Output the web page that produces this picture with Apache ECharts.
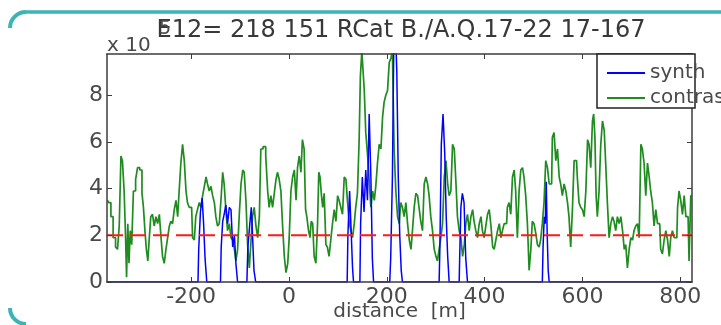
<!DOCTYPE html>
<html><head><meta charset="utf-8">
<script src="https://cdn.jsdelivr.net/npm/echarts@6/dist/echarts.min.js"></script>
<style>html,body{margin:0;padding:0;background:#fff}#c{width:721px;height:325px}</style>
</head><body><div id="c"></div>
<script>
// tick labels
const xTicks = [-200, 0, 200, 400, 600, 800];
const yTicks = [0, 2, 4, 6, 8];
// values in units of 1e5, distance in m
const contrastPts = [
[-371,3.5],[-366,3.4],[-362,2.8],[-357,1.9],[-352,1.5],[-349,1.4],[-345,2.4],[-342,5.4],[-339,5.2],[-335,3.9],
[-333,1.9],[-331,0.2],[-328,2.5],[-326,0.8],[-323,2.2],[-320,1.6],[-316,3.9],[-311,4.4],[-308,4.9],[-302,4.8],
[-299,3.8],[-296,3.2],[-293,2.2],[-290,1.4],[-287,0.9],[-284,1.9],[-281,2.8],[-277,2.9],[-274,2.4],[-270,2.8],
[-267,2.5],[-263,2.9],[-260,1.9],[-257,1.1],[-253,0.8],[-250,1.4],[-246,1.9],[-243,2.4],[-240,2.6],[-236,2.5],
[-233,3.1],[-229,3.5],[-226,2.8],[-223,3.9],[-219,5.1],[-216,5.9],[-212,5.2],[-209,3.9],[-206,3.4],[-202,3.2],
[-199,3.2],[-195,1.9],[-192,1.8],[-189,2.8],[-185,3.1],[-182,3.4],[-178,3.2],[-175,3.7],[-171,4.1],[-168,4.5],
[-165,4.2],[-161,3.9],[-158,4.1],[-154,3.7],[-151,3.4],[-148,2.8],[-144,2.4],[-141,2.5],[-137,3.5],[-134,4.7],
[-131,4.2],[-127,3.1],[-124,2.2],[-120,2.5],[-117,1.9],[-113,1.8],[-110,1.4],[-107,0.9],[-103,1.4],[-100,2.9],
[-96,4.2],[-93,4.8],[-90,4.7],[-86,3.5],[-83,1.6],[-79,0.6],[-76,1.8],[-73,2.8],[-69,3.2],[-66,2.4],
[-62,1.9],[-59,2.8],[-56,5.7],[-50,5.8],[-45,5.4],[-42,3.9],[-39,3.2],[-35,3.7],[-32,3.2],[-28,3.8],
[-25,4.4],[-22,4.7],[-18,4.4],[-15,3.9],[-11,2.4],[-8,1.1],[-4,0.4],[-1,0.8],[2,1.9],[6,3.9],
[9,4.5],[13,4.8],[16,3.5],[19,4.9],[23,5.4],[26,4.7],[29,6.1],[33,5.7],[35,3.1],[38,2.8],
[42,2.2],[44,1.9],[47,2.6],[50,2.5],[53,1.1],[57,0.8],[60,2.5],[62,4.7],[65,4.5],[68,3.7],
[70,3.2],[74,3.8],[77,1.6],[80,1.5],[84,1.1],[87,1.8],[91,2.5],[94,3.1],[98,2.6],[101,3.7],
[104,3.5],[108,3.2],[111,2.9],[115,4.5],[118,4.4],[121,3.5],[125,2.6],[128,2.2],[132,1.9],[135,2.5],
[138,3.2],[142,3.8],[145,6.1],[147,8.8],[151,9.9],[153,9.9],[155,8.2],[159,6.4],[162,5.5],[166,4.4],
[169,3.2],[173,3.9],[176,3.5],[179,4.1],[183,5.1],[186,5.9],[190,5.7],[193,7.1],[196,7.7],[200,8.0],
[203,8.2],[207,9.4],[210,9.6],[213,9.9],[217,5.7],[220,3.9],[224,2.8],[227,2.5],[230,3.4],[234,3.2],
[237,2.8],[241,3.4],[244,2.5],[248,1.8],[251,1.4],[254,2.2],[258,3.2],[261,3.8],[265,3.7],[268,3.1],
[271,2.6],[275,2.2],[278,4.2],[282,4.5],[285,4.2],[288,3.7],[292,2.8],[295,2.2],[299,1.4],[302,1.1],
[305,0.9],[309,1.4],[312,1.9],[316,2.5],[319,4.5],[323,5.2],[326,4.2],[329,3.7],[333,3.9],[336,5.9],
[340,5.7],[343,4.2],[346,2.8],[350,2.2],[353,1.9],[357,1.1],[360,1.6],[363,2.5],[367,2.9],[370,2.2],
[374,2.8],[377,3.1],[380,2.6],[384,2.2],[387,1.9],[391,2.5],[394,2.8],[397,2.2],[401,1.9],[404,2.4],
[408,2.9],[411,3.1],[415,2.4],[418,1.5],[421,1.4],[425,1.8],[428,2.2],[432,2.5],[435,1.9],[438,2.2],
[442,2.5],[445,2.5],[448,3.2],[452,3.4],[455,2.9],[459,4.5],[462,4.8],[465,3.9],[469,1.9],[472,3.9],
[476,4.8],[479,4.9],[482,4.5],[486,3.7],[489,2.5],[493,0.5],[496,1.4],[499,2.6],[503,2.5],[506,2.1],
[510,1.6],[513,1.5],[516,1.8],[520,2.5],[523,3.4],[527,5.2],[530,4.9],[534,4.2],[537,4.2],[540,6.2],
[544,6.4],[547,5.2],[551,5.7],[554,4.5],[557,4.2],[561,3.7],[564,4.2],[568,3.9],[571,3.4],[574,2.8],
[578,1.5],[581,3.1],[585,5.2],[588,5.2],[591,4.5],[595,3.4],[598,3.2],[602,3.1],[605,2.8],[609,3.9],
[612,6.1],[615,5.9],[619,4.9],[622,6.9],[624,7.2],[627,6.2],[629,3.7],[632,2.8],[636,3.9],[639,5.9],
[643,6.9],[646,6.5],[649,5.1],[653,3.4],[656,1.9],[660,2.5],[663,2.8],[666,2.6],[670,2.2],[673,2.8],
[677,2.5],[680,2.8],[684,2.2],[687,1.4],[690,1.6],[694,0.6],[697,1.4],[701,1.9],[704,1.8],[707,2.2],
[711,2.4],[714,2.5],[718,1.9],[721,5.9],[724,5.7],[728,5.1],[731,3.7],[735,5.1],[738,4.5],[741,3.9],
[745,3.4],[748,2.4],[752,3.1],[755,2.5],[758,2.5],[762,1.4],[765,1.2],[769,1.8],[772,2.2],[776,1.8],
[779,1.1],[782,1.9],[786,2.2],[789,1.9],[793,1.9],[796,3.2],[799,3.9],[803,3.5],[806,2.9],[810,3.7],
[813,2.8],[816,2.8],[820,0.9],[823,3.7]
];
const synthPts = [
[-372,0],[-186,0],[-183,1.4],[-179,3.0],[-176,3.6],[-173,2.5],[-170,1.0],[-166,0],
[-140,0],[-137,1.5],[-134,2.6],[-131,2.9],[-127,3.3],[-124,2.5],[-120,3.2],[-117,3.1],[-113,1.5],[-110,2.0],[-107,0.8],[-103,0],
[-86,0],[-82,1.5],[-78,2.5],[-76,3.2],[-73,2.0],[-70,0.5],[-66,0],
[119,0],[122,2.0],[126,3.9],[129,2.0],[131,0.6],[133,0],
[145,0],[148,2.5],[152,4.5],[155,3.0],[159,4.8],[162,3.5],[166,7.2],[169,4.5],[172,1.0],[174,0],
[206,0],[210,1.0],[213,4.5],[216,10.5],[219,11],[222,9.0],[225,4.5],[228,2.0],[231,0.5],[233,0],
[307,0],[310,1.4],[313,5.9],[317,7.2],[320,5.5],[323,2.8],[326,1.1],[329,0],
[348,0],[350,1.0],[353,3.2],[356,3.8],[360,3.4],[363,1.0],[367,0],
[518,0],[521,1.5],[523,2.8],[525,2.5],[527,4.3],[529,2.0],[531,0.5],[533,0],
[824,0]
];
const thresholdLevel = 2;
const xRange = [-372, 824];
const yRange = [0, 9.77];

const FONT = 'DejaVu Sans';
const AX = '#3c3c3c';
const TXT = '#4a4a4a';
const teal = '#3bb4b6';

const chart = echarts.init(document.getElementById('c'), null, {renderer: 'canvas'});
const axisCommon = {
  type: 'value', min: xRange[0], max: xRange[1],
  axisLine: {show: true, onZero: false, lineStyle: {color: AX, width: 1.5}},
  splitLine: {show: false}
};
chart.setOption({
  animation: false,
  backgroundColor: '#fff',
  title: {
    text: 'E12= 218 151 RCat B./A.Q.17-22 17-167',
    left: 396, top: 14, textAlign: 'center',
    textStyle: {fontFamily: FONT, fontSize: 24, fontWeight: 'normal', color: '#383838'}
  },
  grid: {left: 107, top: 54, right: 29, bottom: 43, containLabel: false, outerBoundsMode: 'none'},
  legend: {
    data: ['synth', 'contrast'], orient: 'vertical', left: 602, top: 58,
    icon: 'rect', itemWidth: 38, itemHeight: 2, itemGap: 5, z: 10,
    textStyle: {fontFamily: FONT, fontSize: 20, color: TXT}
  },
  xAxis: [
    Object.assign({}, axisCommon, {
      position: 'bottom', z: 5,
      axisTick: {show: true, inside: true, length: 5, customValues: xTicks, lineStyle: {color: AX}},
      axisLabel: {show: true, customValues: xTicks, margin: 4, fontFamily: FONT, fontSize: 22, color: TXT},
      name: 'distance  [m]', nameLocation: 'middle', nameGap: 20, nameMoveOverlap: false,
      nameTextStyle: {fontFamily: FONT, fontSize: 20, color: TXT, verticalAlign: 'top'}
    }),
    Object.assign({}, axisCommon, {
      position: 'top', z: 5,
      axisTick: {show: true, inside: true, length: 5, customValues: xTicks, lineStyle: {color: AX}},
      axisLabel: {show: false}
    })
  ],
  yAxis: [
    {
      type: 'value', min: yRange[0], max: yRange[1], position: 'left', z: 5,
      axisLine: {show: true, onZero: false, lineStyle: {color: AX, width: 1.5}},
      axisTick: {show: true, inside: true, length: 5, customValues: yTicks, lineStyle: {color: AX}},
      axisLabel: {show: true, customValues: yTicks, margin: 4, fontFamily: FONT, fontSize: 22, color: TXT},
      splitLine: {show: false}
    },
    {
      type: 'value', min: yRange[0], max: yRange[1], position: 'right', z: 5,
      axisLine: {show: true, onZero: false, lineStyle: {color: AX, width: 1.5}},
      axisTick: {show: true, inside: true, length: 5, customValues: yTicks, lineStyle: {color: AX}},
      axisLabel: {show: false},
      splitLine: {show: false}
    }
  ],
  series: [
    {
      name: 'contrast', type: 'line', data: contrastPts, step: 'middle',
      symbol: 'none', z: 2, color: '#1f8c1f',
      lineStyle: {color: '#1f8c1f', width: 1.7}
    },
    {
      name: 'synth', type: 'line', data: synthPts, step: 'middle',
      symbol: 'none', z: 3, color: '#0000ff',
      lineStyle: {color: '#0000ff', width: 1.5}
    },
    {
      name: 'threshold', type: 'line', silent: true,
      data: [[xRange[0], thresholdLevel], [xRange[1], thresholdLevel]],
      symbol: 'none', z: 4,
      lineStyle: {color: '#ff1a1a', width: 2, type: [16, 7]}
    }
  ],
  graphic: [
    {type: 'line', z: 1, shape: {x1: 26, y1: 12, x2: 721, y2: 12}, style: {stroke: teal, lineWidth: 3.5}},
    {type: 'arc', z: 1, shape: {cx: 26, cy: 28, r: 16, startAngle: Math.PI, endAngle: Math.PI * 1.5}, style: {stroke: teal, lineWidth: 4, fill: null}},
    {type: 'arc', z: 1, shape: {cx: 26, cy: 308, r: 16, startAngle: Math.PI * 0.5, endAngle: Math.PI}, style: {stroke: teal, lineWidth: 4, fill: null}},
    {type: 'rect', z: 8, shape: {x: 597, y: 54, width: 98, height: 54}, style: {fill: '#fff', stroke: '#222', lineWidth: 1.5}},
    {type: 'text', z: 8, x: 107, y: 36, style: {text: 'x 10', fontFamily: FONT, fontSize: 20, fill: TXT}},
    {type: 'text', z: 8, x: 159, y: 20, style: {text: '5', fontFamily: FONT, fontSize: 19, fill: TXT}}
  ]
});
</script>
</body></html>
